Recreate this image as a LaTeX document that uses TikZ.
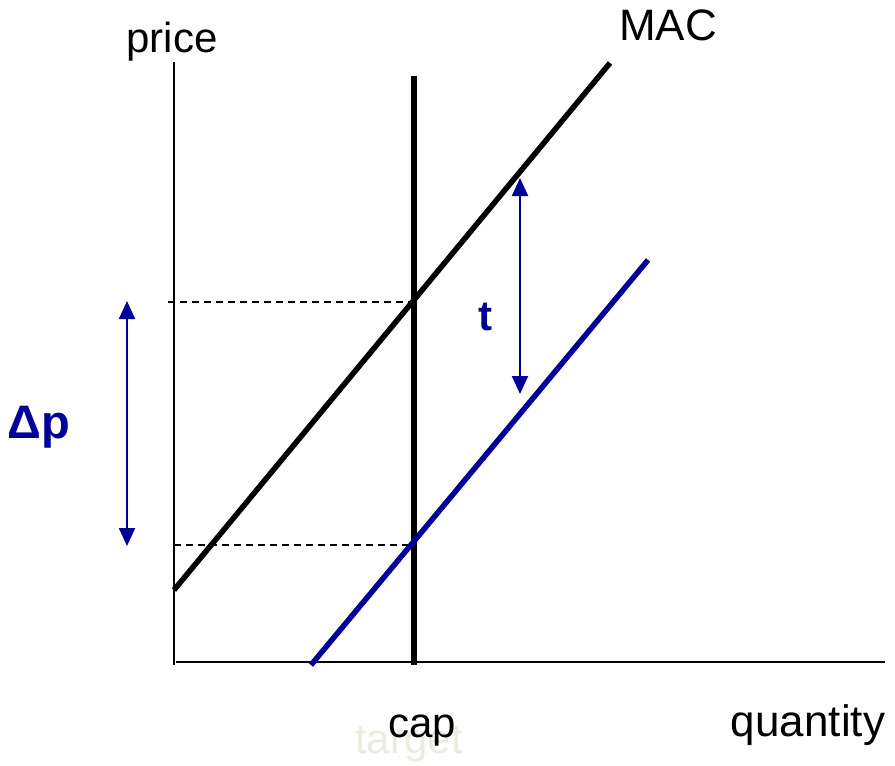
\documentclass[tikz,border=0pt]{standalone}
\usepackage{fontspec}
\setmainfont{Liberation Sans}
\usetikzlibrary{arrows.meta}
\definecolor{tblue}{HTML}{000099}
\definecolor{ghost}{HTML}{EDEBE1}
\tikzset{
  axis/.style={line width=2pt,black},
  thick line/.style={line width=5.5pt,line cap=butt},
  dashline/.style={line width=1.5pt,dash pattern=on 7pt off 5pt},
  dblarrow/.style={line width=2.2pt,tblue,{Triangle[width=16pt,length=18pt]}-{Triangle[width=16pt,length=18pt]}},
  lbl/.style={inner sep=0pt,anchor=base,font=\fontsize{42}{46}\selectfont},
  biglbl/.style={inner sep=0pt,anchor=base,font=\fontsize{44}{48}\selectfont},
  blbl/.style={inner sep=0pt,anchor=base,text=tblue,font=\fontsize{42}{46}\selectfont\bfseries}
}
\begin{document}
\begin{tikzpicture}[x=1pt,y=-1pt]
\useasboundingbox (0,0) rectangle (895,766);
% coordinates
\coordinate (ytop) at (174,62);
\coordinate (ybot) at (174,665);
\coordinate (xl) at (176,662);
\coordinate (xr) at (885,662);
\coordinate (captop) at (414,76);
\coordinate (capbot) at (414,665);
\coordinate (macA) at (174,590);
\coordinate (macB) at (610,63);
\coordinate (blA) at (311,665);
\coordinate (blB) at (648,260);
\coordinate (d1l) at (168,302);
\coordinate (d1r) at (414,302);
\coordinate (d2l) at (174,545);
\coordinate (d2r) at (414,545);
\coordinate (dpT) at (127,301);
\coordinate (dpB) at (127,546);
\coordinate (tT) at (520,178);
\coordinate (tB) at (520,394);
% axes
\draw[axis] (ytop) -- (ybot);
\draw[axis] (xl) -- (xr);
% dashed
\draw[dashline] (d1l) -- (d1r);
\draw[dashline] (d2l) -- (d2r);
% curves
\draw[thick line] (captop) -- (capbot);
\draw[thick line,black] (macA) -- (macB);
\draw[thick line,tblue] (blA) -- (blB);
% arrows
\draw[dblarrow] (dpT) -- (dpB);
\draw[dblarrow] (tT) -- (tB);
% labels
\node[lbl] (price) at (172,52) {price};
\node[biglbl] (mac) at (668,40) {MAC};
\node[lbl,text=ghost] (target) at (409,753) {target};
\node[lbl] (cap) at (422,737) {cap};
\node[biglbl] (qty) at (808,736) {quantity};
\node[blbl] (t) at (485,330) {t};
\node[blbl,font=\fontsize{47}{50}\selectfont\bfseries] (dp) at (39,438) {Δp};
\end{tikzpicture}
\end{document}
